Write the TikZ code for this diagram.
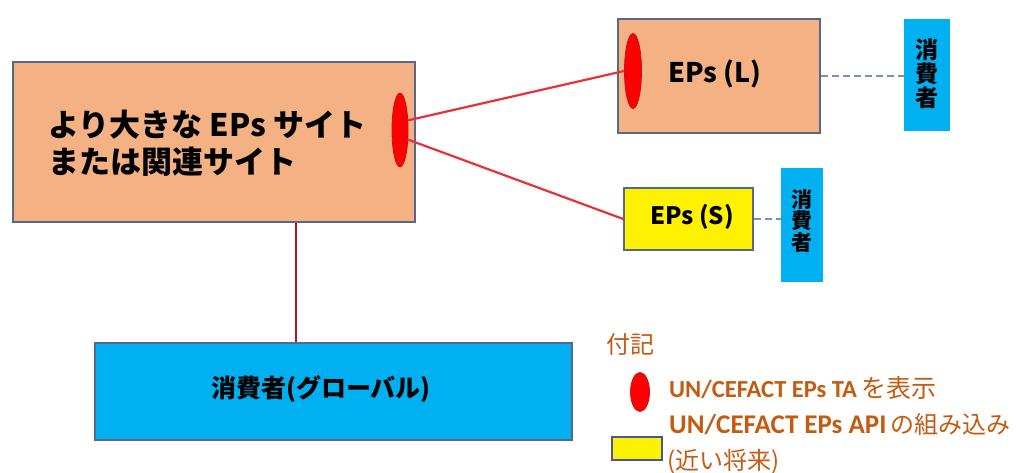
\documentclass[tikz,border=0pt]{standalone}
\usepackage{fontspec}
\setmainfont{Noto Sans CJK JP}
\newfontfamily\calfont{Carlito}
\usetikzlibrary{shapes.geometric}
\definecolor{salmon}{HTML}{F4B183}
\definecolor{bord}{HTML}{56698A}
\definecolor{legbord}{HTML}{4A55A0}
\definecolor{cyanb}{HTML}{00B0F0}
\definecolor{redl}{HTML}{E8303A}
\definecolor{redv}{HTML}{C0141E}
\definecolor{legc}{HTML}{C55A11}
\definecolor{dashc}{HTML}{7F8FB0}
\tikzset{
  box/.style={rectangle, draw=bord, line width=1.6pt, inner sep=0pt},
  cons/.style={rectangle, fill=cyanb, inner sep=0pt},
  constxt/.style={align=center, inner sep=0pt},
  ta/.style={ellipse, fill=red, draw=redv, line width=0.8pt, inner sep=0pt},
  rline/.style={draw=redl, line width=2.2pt},
  vline/.style={draw=redv, line width=2.2pt},
  dline/.style={draw=dashc, line width=2pt, dash pattern=on 7pt off 4pt},
  legtext/.style={text=legc, inner sep=0pt},
}
\begin{document}
\begin{tikzpicture}[x=1pt,y=-1pt]
\useasboundingbox (0,0) rectangle (1018,472);
% main boxes
\node[box, fill=salmon, minimum width=402, minimum height=160] (big) at (214,142) {};
\node[anchor=west, align=left, font=\fontsize{31}{37}\selectfont\bfseries, inner sep=0pt] (bigtxt) at (48,143) {より大きな EPs サイト\\または関連サイト};
\node[ta, minimum width=16, minimum height=74] (bigell) at (400,130) {};

\node[box, fill=salmon, minimum width=202, minimum height=114] (epsL) at (719,76) {};
\node[font=\fontsize{27}{30}\selectfont\bfseries, inner sep=0pt] (epsLt) at (715,74) {EPs (L)};
\node[ta, minimum width=17, minimum height=75] (ellL) at (633,71) {};

\node[box, fill=yellow, minimum width=129, minimum height=62] (epsS) at (688.5,219) {};
\node[font=\fontsize{24}{28}\selectfont\bfseries, inner sep=0pt] (epsSt) at (692,217) {EPs (S)};

\node[cons, minimum width=46, minimum height=112] (cons1) at (927,75) {};
\node[constxt, font=\fontsize{23}{24}\selectfont\bfseries] (cons1t) at (927,74) {消\\費\\者};
\node[cons, minimum width=42, minimum height=114] (cons2) at (802,225) {};
\node[constxt, font=\fontsize{21}{21.5}\selectfont\bfseries] (cons2t) at (802,221) {消\\費\\者};

\node[rectangle, draw=bord, line width=1.4pt, fill=cyanb, minimum width=477, minimum height=97] (global) at (333.5,391.5) {};
\node[font=\fontsize{25}{28}\selectfont\bfseries, inner sep=0pt] (globalt) at (321,389) {消費者(グローバル)};

% connectors
\draw[rline] (bigell.50) -- (ellL.west);
\draw[rline] (bigell.-50) -- (epsS.west);
\coordinate (vx) at (296,0);
\draw[vline] (big.south -| vx) -- (global.north -| vx);
\draw[dline] (epsL.east) -- (epsL.east -| cons1.west);
\draw[dline] (epsS.east) -- (epsS.east -| cons2.west);

% legend
\node[legtext, anchor=west, font=\fontsize{24}{26}\selectfont] (legt) at (606,344) {付記};
\node[ta, minimum width=19, minimum height=39] (legell) at (640,392) {};
\node[legtext, anchor=base west, font=\fontsize{25}{26}\selectfont] (leg1) at (669,397) {{\calfont\bfseries\fontsize{24.5}{26}\selectfont UN/CEFACT EPs TA}\,を表示};
\node[rectangle, draw=legbord, line width=1.4pt, fill=yellow, minimum width=50, minimum height=23, inner sep=0pt] (legbox) at (637,448.5) {};
\node[legtext, anchor=base west, font=\fontsize{24}{26}\selectfont] (leg2) at (669,433) {{\calfont\bfseries\fontsize{27}{30}\selectfont UN/CEFACT EPs API}\,の組み込み};
\node[legtext, anchor=base west, font=\fontsize{24}{26}\selectfont] (leg3) at (667,469) {(近い将来)};
\end{tikzpicture}
\end{document}
